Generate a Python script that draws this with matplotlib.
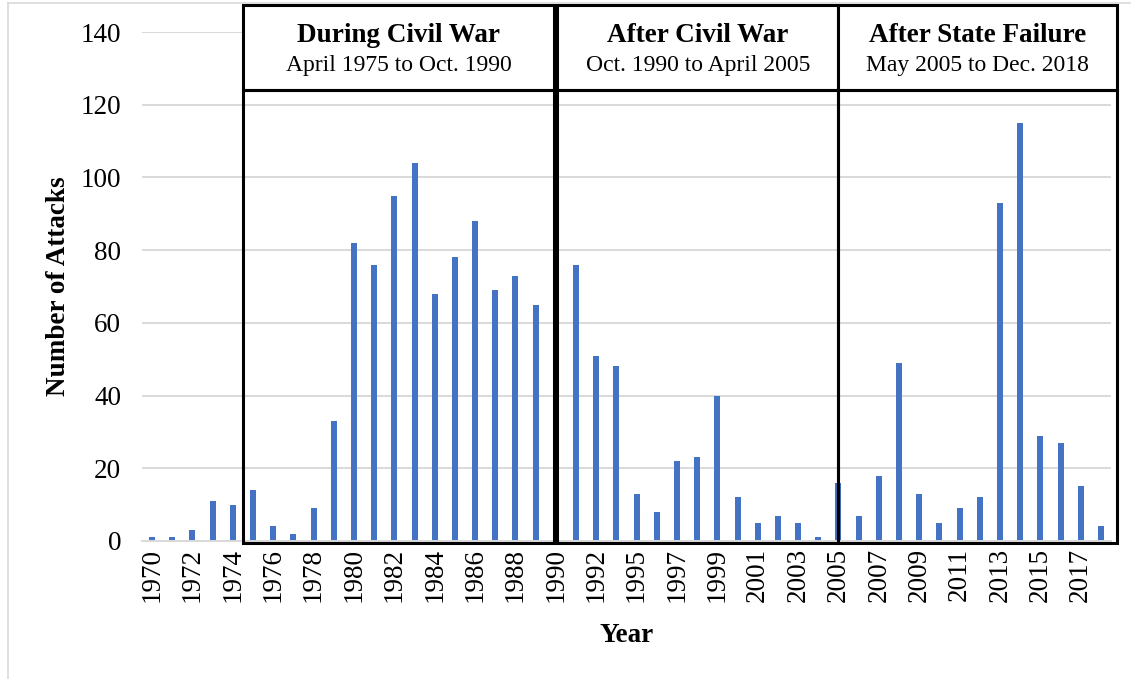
import matplotlib
matplotlib.use('Agg')
import matplotlib.pyplot as plt
from matplotlib.patches import Rectangle
import matplotlib.transforms as mtransforms

# GTD counts per year (no 1993 in the data)
years = list(range(1970, 1993)) + list(range(1994, 2019))
attacks = [1, 1, 3, 11, 10, 14, 4, 2, 9, 33,
           82, 76, 95, 104, 68, 78, 88, 69, 73, 65,
           56, 76, 51,
           48, 13, 8, 22, 23, 40, 12, 5, 7, 5, 1,
           16, 7, 18, 49, 13, 5, 9, 12, 93, 115, 29, 27, 15, 4]

# period boxes: (left, right) in category positions, title, subtitle
period_edges = [(4.5, 19.93), (20.07, 34), (34, 47.8)]
period_titles = ['During Civil War', 'After Civil War', 'After State Failure']
period_subtitles = ['April 1975 to Oct. 1990', 'Oct. 1990 to April 2005', 'May 2005 to Dec. 2018']

plt.rcParams['font.family'] = ['Liberation Serif', 'DejaVu Serif']

W, H = 1131, 679
fig = plt.figure(figsize=(W / 100, H / 100), dpi=100)
ax = fig.add_axes([142 / W, 1 - 541 / H, (1111 - 142) / W, (541 - 32) / H])

x = list(range(len(years)))
ax.bar(x, attacks, width=0.3, color='#4472C4', zorder=2)

ax.set_xlim(-0.5, len(years) - 0.5)
ax.set_ylim(0, 140)
ax.set_yticks(range(0, 141, 20))
ax.set_xticks(x[::2])
ax.set_xticklabels([str(y) for y in years[::2]], rotation=90)
ax.tick_params(axis='both', length=0, labelsize=19.5)
ax.tick_params(axis='y', pad=15)
ax.tick_params(axis='x', pad=5)
ax.grid(axis='y', color='#D9D9D9', linewidth=1.4, zorder=0)
for s in ['top', 'right', 'left']:
    ax.spines[s].set_visible(False)
ax.spines['bottom'].set_color('#D9D9D9')
ax.spines['bottom'].set_linewidth(1.4)

ax.set_ylabel('Number of Attacks', fontsize=19.5, fontweight='bold')
ax.set_xlabel('Year', fontsize=19.5, fontweight='bold')
ax.yaxis.set_label_coords(-0.0865, 0.5)
ax.yaxis.label.set_va('center')
ax.xaxis.set_label_coords(0.5, -0.185)
ax.xaxis.label.set_va('center')

trans = mtransforms.blended_transform_factory(ax.transData, ax.transAxes)
y_bot = -0.004
y_head = (541 - 90) / 509
y_top = (541 - 5) / 509
for (x0, x1), title, sub in zip(period_edges, period_titles, period_subtitles):
    # header box with white fill
    ax.add_patch(Rectangle((x0, y_head), x1 - x0, y_top - y_head, transform=trans,
                           facecolor='white', edgecolor='black', linewidth=2.2,
                           clip_on=False, zorder=5))
    # body frame
    ax.add_patch(Rectangle((x0, y_bot), x1 - x0, y_head - y_bot, transform=trans,
                           facecolor='none', edgecolor='black', linewidth=2.2,
                           clip_on=False, zorder=5))
    xc = (x0 + x1) / 2
    ax.text(xc, (541 - 35) / 509, title, transform=trans,
            ha='center', va='center', fontsize=19.5, fontweight='bold', zorder=6)
    ax.text(xc, (541 - 65) / 509, sub, transform=trans,
            ha='center', va='center', fontsize=17, zorder=6)

# light grey chart-area border (left and top edges)
fig.add_artist(plt.Line2D([8 / W, 8 / W], [0, 1 - 3 / H], transform=fig.transFigure,
                          color='#D9D9D9', linewidth=1.2))
fig.add_artist(plt.Line2D([8 / W, 1], [1 - 3 / H, 1 - 3 / H], transform=fig.transFigure,
                          color='#D9D9D9', linewidth=1.2))

fig.savefig('out.png', dpi=100)
